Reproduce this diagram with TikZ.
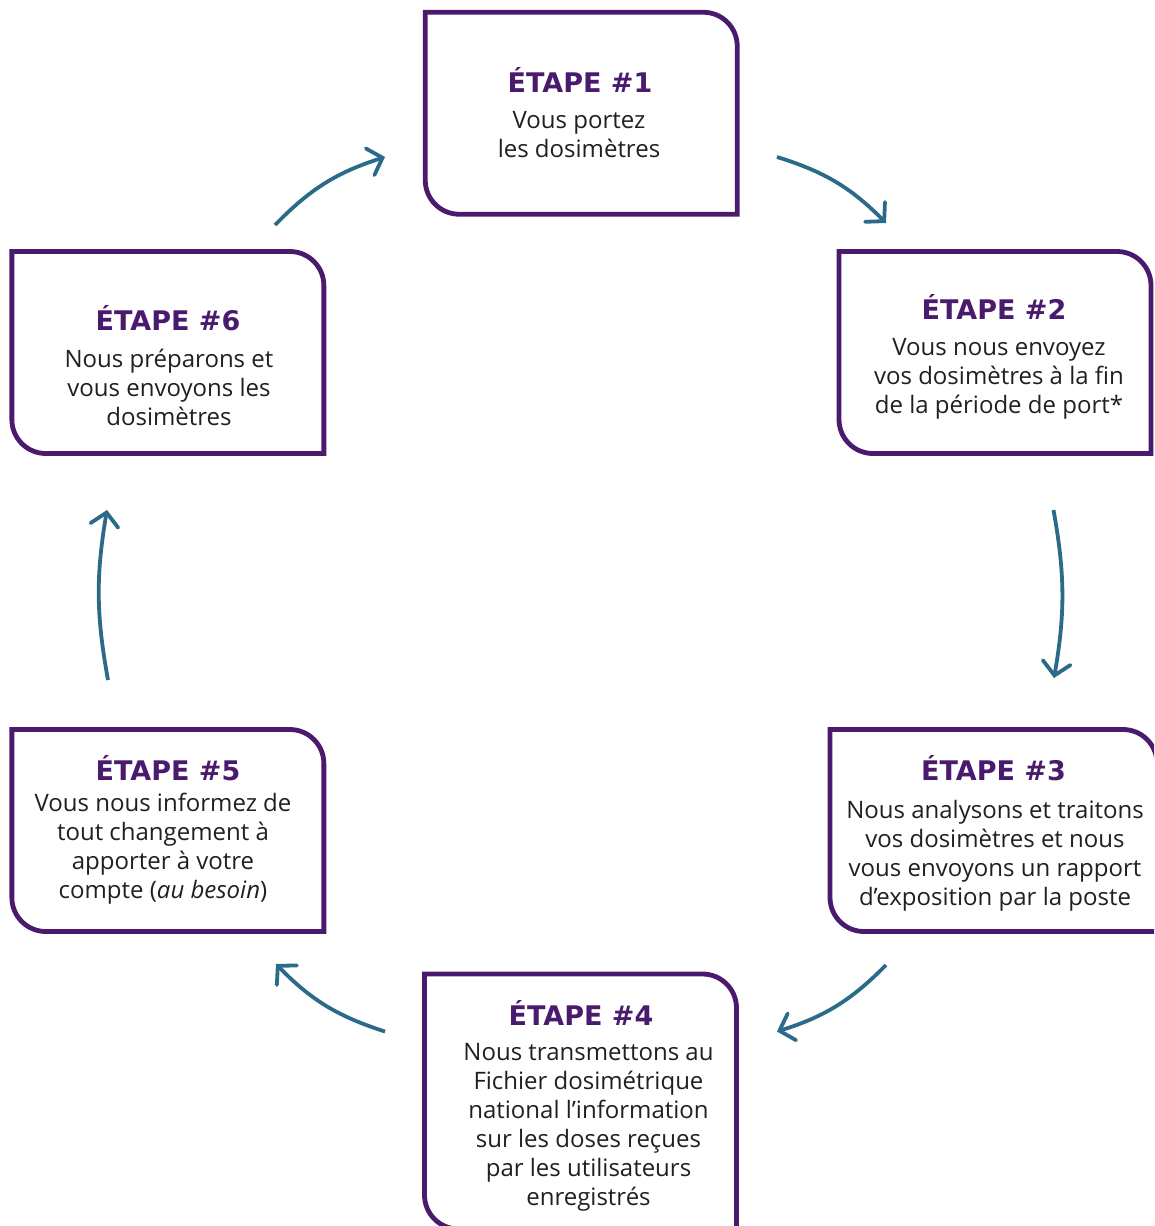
\documentclass[tikz,border=0pt]{standalone}
\usepackage{fontspec}
\setmainfont{Open Sans}
\newfontfamily\titlefamily{DejaVu Sans}
\usetikzlibrary{arrows.meta,calc}
\definecolor{boxpurple}{HTML}{4A1A6E}
\definecolor{arrowteal}{HTML}{2C6A8A}
\definecolor{bodygray}{HTML}{231F20}
\tikzset{
  boxarea/.style={draw=none,inner sep=0pt,outer sep=0pt,minimum width=312pt,minimum height=202pt},
  boxline/.style={draw=boxpurple,line width=4.8pt},
  steptitle/.style={anchor=base,inner sep=0pt,text=boxpurple,font=\titlefamily\fontsize{27}{32}\selectfont\bfseries},
  stepbody/.style={anchor=north,inner sep=0pt,align=center,text=bodygray,font=\fontsize{24}{29}\selectfont},
  cyclearrow/.style={draw=arrowteal,line width=3.8pt,-{Straight Barb[length=13pt,width=28pt,line cap=round]},bend left=#1},
}
\newcommand{\stepoutline}[1]{%
  \draw[boxline] (#1.north west) -- ([xshift=-34pt]#1.north east)
    arc[start angle=90,end angle=0,radius=34pt] -- (#1.south east)
    -- ([xshift=34pt]#1.south west) arc[start angle=270,end angle=180,radius=34pt] -- cycle;}
\begin{document}
\begin{tikzpicture}[x=1pt,y=1pt]
\clip (0,0) rectangle (1154,-1226);
\fill[white] (0,0) rectangle (1154,-1226);
% boxes
\node[boxarea] (b1) at (581.25,-113.25) {};
\node[boxarea] (b2) at (995,-352.5) {};
\node[boxarea,minimum width=327pt] (b3) at (993.5,-830.5) {};
\node[boxarea,minimum height=255pt] (b4) at (580.5,-1101.5) {};
\node[boxarea] (b5) at (167.85,-830.5) {};
\node[boxarea] (b6) at (167.85,-352.5) {};
\foreach \b in {b1,b2,b3,b4,b5,b6}{\stepoutline{\b}}
% texts
\node[steptitle] (t1) at (580,-92) {ÉTAPE \#1};
\node[stepbody] (d1) at (579,-128+20.3) {\strut Vous portez\\les dosimètres};
\node[steptitle] (t2) at (994,-319) {ÉTAPE \#2};
\node[stepbody] (d2) at (999,-355+20.3) {\strut Vous nous envoyez\\vos dosimètres à la fin\\de la période de port*};
\node[steptitle] (t3) at (993.5,-780) {ÉTAPE \#3};
\node[stepbody] (d3) at (995,-818+20.3) {\strut Nous analysons et traitons\\vos dosimètres et nous\\vous envoyons un rapport\\d’exposition par la poste};
\node[steptitle] (t4) at (581,-1025) {ÉTAPE \#4};
\node[stepbody] (d4) at (588.5,-1060+20.3) {\strut Nous transmettons au\\Fichier dosimétrique\\national l’information\\sur les doses reçues\\par les utilisateurs\\enregistrés};
\node[steptitle] (t5) at (168,-780) {ÉTAPE \#5};
\node[stepbody] (d5) at (163,-811+20.3) {\strut Vous nous informez de\\tout changement à\\apporter à votre\\compte (\textit{au besoin})};
\node[steptitle] (t6) at (168,-330) {ÉTAPE \#6};
\node[stepbody] (d6) at (169,-367+20.3) {\strut Nous préparons et\\vous envoyons les\\dosimètres};
% arrow end points
\coordinate (a12s) at (777,-157);
\coordinate (a12e) at (886,-223);
\coordinate (a23s) at (1053.5,-510);
\coordinate (a23e) at (1054,-678);
\coordinate (a34s) at (886,-965);
\coordinate (a34e) at (777,-1031.5);
\coordinate (a45s) at (385,-1031.5);
\coordinate (a45e) at (276,-964);
\coordinate (a56s) at (108,-680);
\coordinate (a56e) at (107,-510);
\coordinate (a61s) at (275,-225);
\coordinate (a61e) at (385,-157);
\draw[cyclearrow=14] (a12s) to (a12e);
\draw[cyclearrow=10] (a23s) to (a23e);
\draw[cyclearrow=14] (a34s) to (a34e);
\draw[cyclearrow=14] (a45s) to (a45e);
\draw[cyclearrow=10] (a56s) to (a56e);
\draw[cyclearrow=14] (a61s) to (a61e);
\end{tikzpicture}
\end{document}
